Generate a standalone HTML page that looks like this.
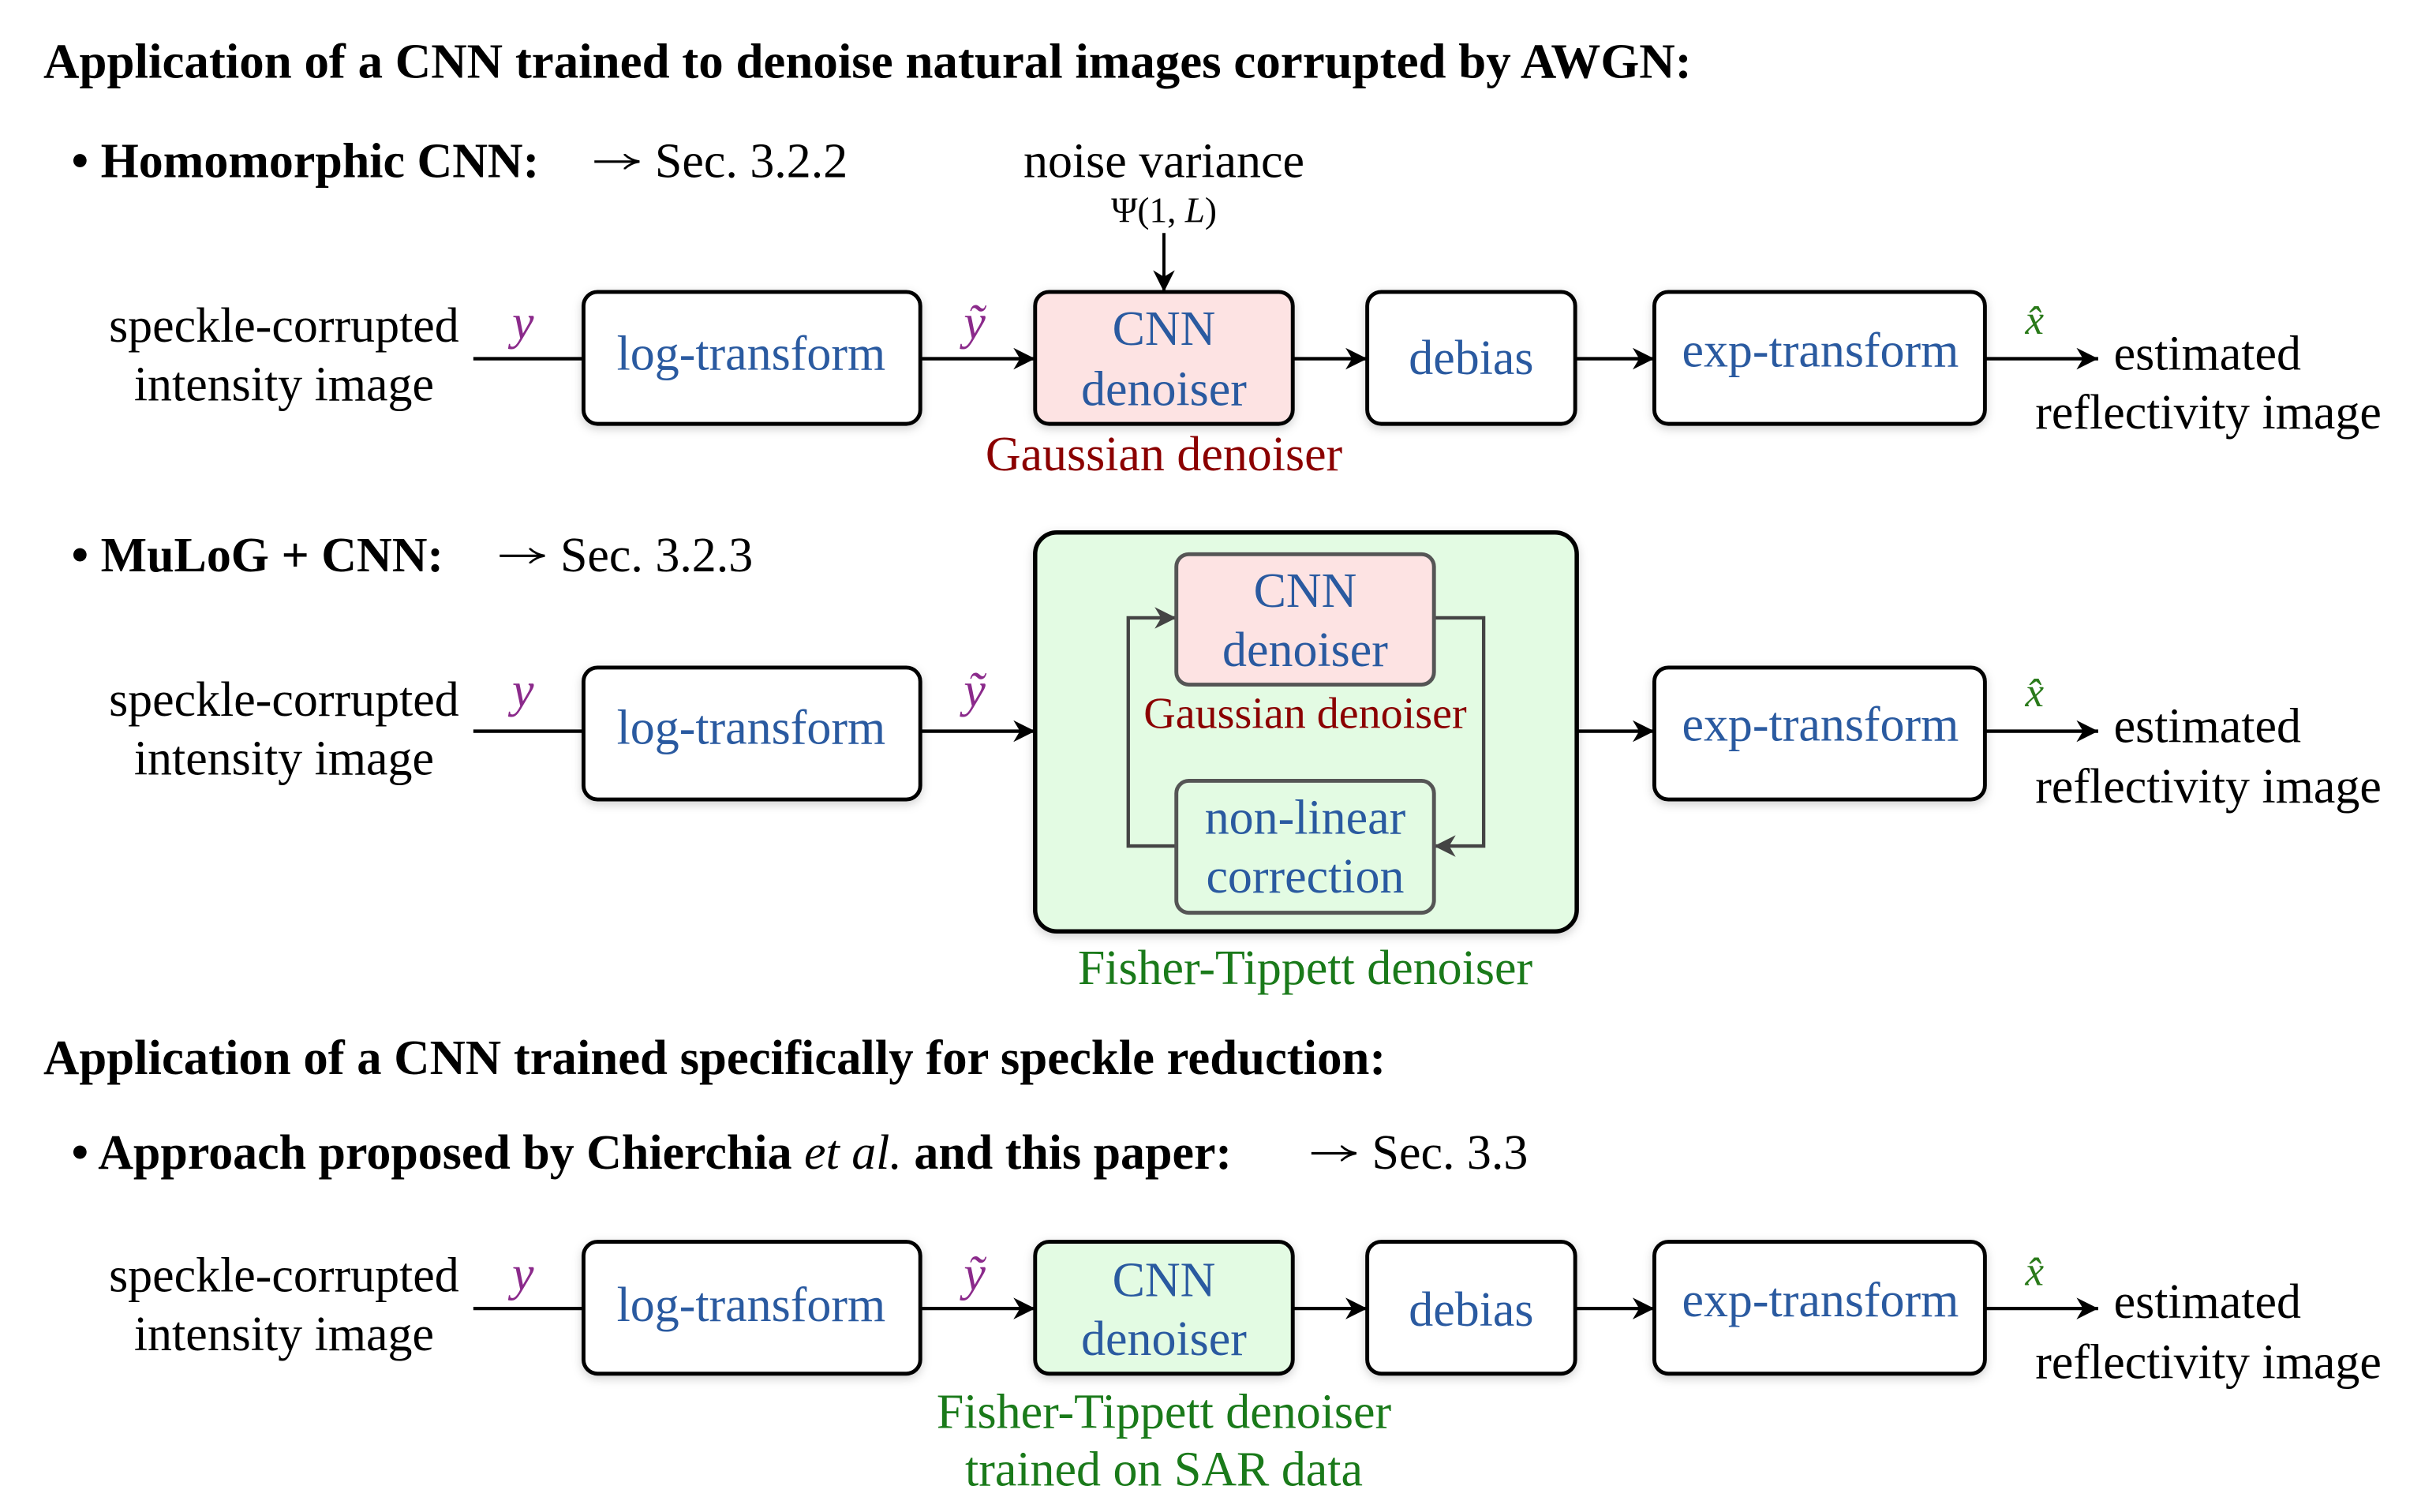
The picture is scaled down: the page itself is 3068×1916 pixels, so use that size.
<!DOCTYPE html>
<html><head><meta charset="utf-8"><style>html,body{margin:0;padding:0;background:#fff}svg{display:block}</style></head>
<body>
<svg width="3068" height="1916" viewBox="0 0 1560 974" xmlns="http://www.w3.org/2000/svg" font-family="'Liberation Serif', serif">
<defs>
<marker id="g" viewBox="0 0 10 10" refX="10" refY="5" markerWidth="14" markerHeight="14" orient="auto" markerUnits="userSpaceOnUse"><path d="M0,0 L10,5 L0,10 L3,5 z" fill="#444"/></marker>
<marker id="b" viewBox="0 0 10 10" refX="10" refY="5" markerWidth="14" markerHeight="14" orient="auto" markerUnits="userSpaceOnUse"><path d="M0,0 L10,5 L0,10 L3,5 z" fill="#000"/></marker>
<marker id="s2" viewBox="0 0 10 10" refX="10" refY="5" markerWidth="10" markerHeight="10" orient="auto" markerUnits="userSpaceOnUse"><path d="M0,0 Q4,4 10,5 Q4,6 0,10" fill="none" stroke="#000" stroke-width="1.4"/></marker>
<filter id="s" x="-10%" y="-10%" width="120%" height="130%"><feDropShadow dx="0" dy="2" stdDeviation="3" flood-color="#000" flood-opacity="0.18"/></filter>
</defs>
<g font-size="31.5" fill="#000">
<text x="28" y="50" font-weight="bold" textLength="1062" lengthAdjust="spacingAndGlyphs">Application of a CNN trained to denoise natural images corrupted by AWGN:</text>
<text x="46" y="114" font-weight="bold">• Homomorphic CNN:</text>
<line x1="383" y1="104" x2="412" y2="104" stroke="#000" stroke-width="1.6" marker-end="url(#s2)"/>
<text x="422" y="114">Sec. 3.2.2</text>
<text x="750" y="114" text-anchor="middle">noise variance</text>
<text x="750" y="143" text-anchor="middle" font-size="23">Ψ(1, <tspan font-style="italic">L</tspan>)</text>
<text x="46" y="368" font-weight="bold">• MuLoG + CNN:</text>
<line x1="322" y1="358" x2="351" y2="358" stroke="#000" stroke-width="1.6" marker-end="url(#s2)"/>
<text x="361" y="368">Sec. 3.2.3</text>
<text x="28" y="692" font-weight="bold" textLength="865" lengthAdjust="spacingAndGlyphs">Application of a CNN trained specifically for speckle reduction:</text>
<text x="46" y="753" font-weight="bold">• Approach proposed by Chierchia <tspan font-style="italic" font-weight="normal">et al.</tspan> and this paper:</text>
<line x1="845" y1="743" x2="874" y2="743" stroke="#000" stroke-width="1.6" marker-end="url(#s2)"/>
<text x="884" y="753">Sec. 3.3</text>
</g>
<line x1="750" y1="150" x2="750" y2="188" stroke="#000" stroke-width="2" marker-end="url(#b)"/>

<g font-size="31.5" stroke-width="2.2">
<!-- Row 1 -->
<g>
<text x="183" y="220" text-anchor="middle">speckle-corrupted</text>
<text x="183" y="258" text-anchor="middle">intensity image</text>
<line x1="305" y1="231" x2="376" y2="231" stroke="#000"/>
<line x1="593" y1="231" x2="667" y2="231" stroke="#000" marker-end="url(#b)"/>
<line x1="833" y1="231" x2="881" y2="231" stroke="#000" marker-end="url(#b)"/>
<line x1="1015" y1="231" x2="1066" y2="231" stroke="#000" marker-end="url(#b)"/>
<line x1="1279" y1="231" x2="1352" y2="231" stroke="#000" marker-end="url(#b)"/>
<rect x="376" y="188" width="217" height="85" rx="9" fill="#fff" stroke="#000" stroke-width="2.5" filter="url(#s)"/>
<rect x="667" y="188" width="166" height="85" rx="9" fill="#fde3e3" stroke="#000" stroke-width="2.5" filter="url(#s)"/>
<rect x="881" y="188" width="134" height="85" rx="9" fill="#fff" stroke="#000" stroke-width="2.5" filter="url(#s)"/>
<rect x="1066" y="188" width="213" height="85" rx="9" fill="#fff" stroke="#000" stroke-width="2.5" filter="url(#s)"/>
<g fill="#2a5aa0" text-anchor="middle">
<text x="484" y="238">log-transform</text>
<text x="750" y="222">CNN</text><text x="750" y="261">denoiser</text>
<text x="948" y="241">debias</text>
<text x="1173" y="236">exp-transform</text>
</g>
<text x="750" y="303" text-anchor="middle" fill="#8b0000">Gaussian denoiser</text>
<text x="337" y="218" fill="#8b2a8b" font-style="italic" text-anchor="middle">y</text>
<text x="628" y="218" fill="#8b2a8b" font-style="italic" text-anchor="middle">ỹ</text>
<text x="1311" y="215" fill="#2a7a1a" font-style="italic" text-anchor="middle" font-size="27">x̂</text>
<text x="1362" y="238">estimated</text>
<text x="1423" y="276" text-anchor="middle">reflectivity image</text>
</g>

<!-- Row 2 -->
<g>
<text x="183" y="461" text-anchor="middle">speckle-corrupted</text>
<text x="183" y="499" text-anchor="middle">intensity image</text>
<line x1="305" y1="471" x2="376" y2="471" stroke="#000"/>
<line x1="593" y1="471" x2="667" y2="471" stroke="#000" marker-end="url(#b)"/>
<line x1="1016" y1="471" x2="1066" y2="471" stroke="#000" marker-end="url(#b)"/>
<line x1="1279" y1="471" x2="1352" y2="471" stroke="#000" marker-end="url(#b)"/>
<rect x="376" y="430" width="217" height="85" rx="9" fill="#fff" stroke="#000" stroke-width="2.5" filter="url(#s)"/>
<rect x="667" y="343" width="349" height="257" rx="14" fill="#e3fbe3" stroke="#000" stroke-width="2.8" filter="url(#s)"/>
<rect x="1066" y="430" width="213" height="85" rx="9" fill="#fff" stroke="#000" stroke-width="2.5" filter="url(#s)"/>
<polyline points="758,545 727,545 727,398 758,398" fill="none" stroke="#444" stroke-width="2.2" marker-end="url(#g)"/>
<polyline points="924,398 956,398 956,545 924,545" fill="none" stroke="#444" stroke-width="2.2" marker-end="url(#g)"/>
<rect x="758" y="357" width="166" height="84" rx="8" fill="#fde3e3" stroke="#555" stroke-width="2.5"/>
<rect x="758" y="503" width="166" height="85" rx="8" fill="#e3fbe3" stroke="#555" stroke-width="2.5"/>
<g fill="#2a5aa0" text-anchor="middle">
<text x="484" y="479">log-transform</text>
<text x="841" y="391">CNN</text><text x="841" y="429">denoiser</text>
<text x="841" y="537">non-linear</text><text x="841" y="575">correction</text>
<text x="1173" y="477">exp-transform</text>
</g>
<text x="841" y="469" text-anchor="middle" fill="#8b0000" font-size="28.5">Gaussian denoiser</text>
<text x="841" y="634" text-anchor="middle" fill="#1a7a1a">Fisher-Tippett denoiser</text>
<text x="337" y="455" fill="#8b2a8b" font-style="italic" text-anchor="middle">y</text>
<text x="628" y="455" fill="#8b2a8b" font-style="italic" text-anchor="middle">ỹ</text>
<text x="1311" y="455" fill="#2a7a1a" font-style="italic" text-anchor="middle" font-size="27">x̂</text>
<text x="1362" y="478">estimated</text>
<text x="1423" y="517" text-anchor="middle">reflectivity image</text>
</g>

<!-- Row 3 -->
<g>
<text x="183" y="832" text-anchor="middle">speckle-corrupted</text>
<text x="183" y="870" text-anchor="middle">intensity image</text>
<line x1="305" y1="843" x2="376" y2="843" stroke="#000"/>
<line x1="593" y1="843" x2="667" y2="843" stroke="#000" marker-end="url(#b)"/>
<line x1="833" y1="843" x2="881" y2="843" stroke="#000" marker-end="url(#b)"/>
<line x1="1015" y1="843" x2="1066" y2="843" stroke="#000" marker-end="url(#b)"/>
<line x1="1279" y1="843" x2="1352" y2="843" stroke="#000" marker-end="url(#b)"/>
<rect x="376" y="800" width="217" height="85" rx="9" fill="#fff" stroke="#000" stroke-width="2.5" filter="url(#s)"/>
<rect x="667" y="800" width="166" height="85" rx="9" fill="#e3fbe3" stroke="#000" stroke-width="2.5" filter="url(#s)"/>
<rect x="881" y="800" width="134" height="85" rx="9" fill="#fff" stroke="#000" stroke-width="2.5" filter="url(#s)"/>
<rect x="1066" y="800" width="213" height="85" rx="9" fill="#fff" stroke="#000" stroke-width="2.5" filter="url(#s)"/>
<g fill="#2a5aa0" text-anchor="middle">
<text x="484" y="851">log-transform</text>
<text x="750" y="835">CNN</text><text x="750" y="873">denoiser</text>
<text x="948" y="854">debias</text>
<text x="1173" y="848">exp-transform</text>
</g>
<text x="750" y="920" text-anchor="middle" fill="#1a7a1a">Fisher-Tippett denoiser</text>
<text x="750" y="957" text-anchor="middle" fill="#1a7a1a">trained on SAR data</text>
<text x="337" y="831" fill="#8b2a8b" font-style="italic" text-anchor="middle">y</text>
<text x="628" y="831" fill="#8b2a8b" font-style="italic" text-anchor="middle">ỹ</text>
<text x="1311" y="828" fill="#2a7a1a" font-style="italic" text-anchor="middle" font-size="27">x̂</text>
<text x="1362" y="849">estimated</text>
<text x="1423" y="888" text-anchor="middle">reflectivity image</text>
</g>
</g>
</svg>
</body></html>
